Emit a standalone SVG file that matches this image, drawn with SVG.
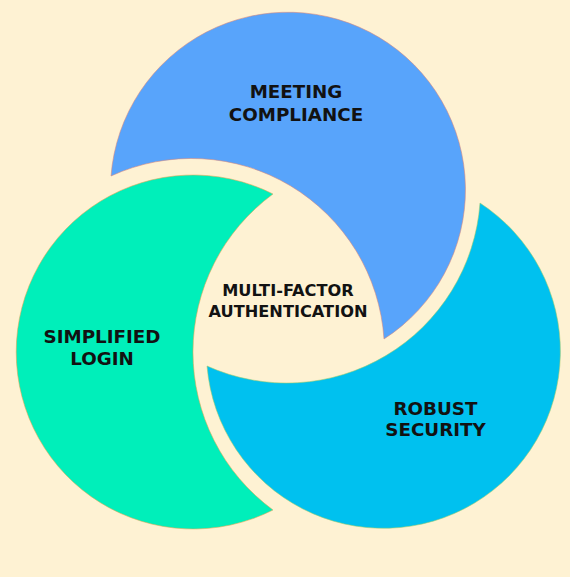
<svg xmlns="http://www.w3.org/2000/svg" width="570" height="577" viewBox="0 0 570 577">
  <style>
    .lbl { font-family: "DejaVu Sans", "Liberation Sans", sans-serif; font-weight: bold; fill: #121212; text-anchor: middle; }
    .big { font-size: 18.3px; }
    .mid { font-size: 16.2px; }
  </style>
  <rect width="570" height="577" fill="#FEF2D3"/>
  <g id="meeting-compliance">
    <path d="M 111,176 A 177.5 177.5 0 1 1 384,339 A 193 193 0 0 0 111,176 Z" fill="#58A4FB" stroke="#D9867A" stroke-width="0.8" stroke-opacity="0.7"/>
    <text class="lbl big" x="296" y="98">MEETING</text>
    <text class="lbl big" x="296" y="121">COMPLIANCE</text>
  </g>
  <g id="simplified-login">
    <path d="M 273,194 A 177 177 0 1 0 273,510 A 196 196 0 0 1 273,194 Z" fill="#00EFBA" stroke="#E3A552" stroke-width="0.8" stroke-opacity="0.7"/>
    <text class="lbl big" x="102" y="342.5">SIMPLIFIED</text>
    <text class="lbl big" x="102" y="365">LOGIN</text>
  </g>
  <g id="robust-security">
    <path d="M 480,203 A 177 177 0 1 1 207,366 A 194 194 0 0 0 480,203 Z" fill="#00C1EF" stroke="#9FCB6A" stroke-width="0.8" stroke-opacity="0.7"/>
    <text class="lbl big" x="435.5" y="414.5">ROBUST</text>
    <text class="lbl big" x="435.5" y="436">SECURITY</text>
  </g>
  <g id="multi-factor-authentication">
    <text class="lbl mid" x="288" y="296">MULTI-FACTOR</text>
    <text class="lbl mid" x="288" y="317">AUTHENTICATION</text>
  </g>
  <g id="connectors"/>
</svg>
